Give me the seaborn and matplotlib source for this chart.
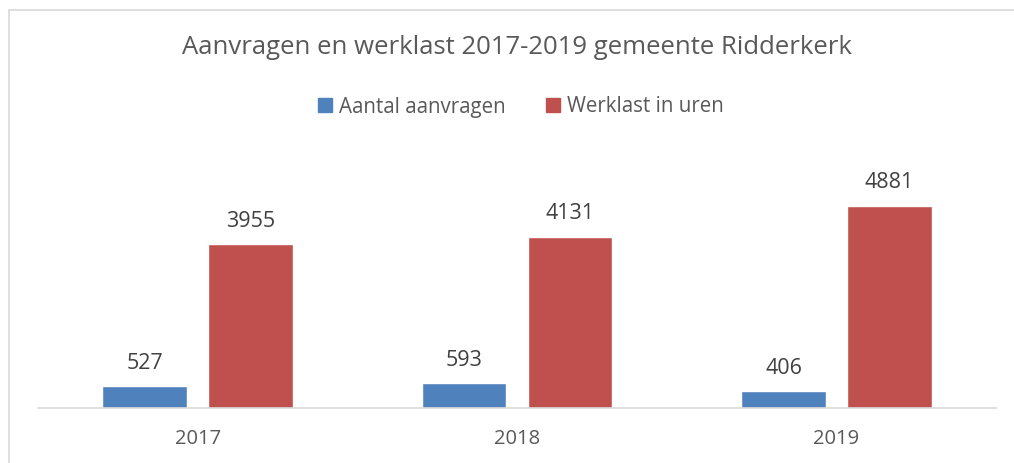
import matplotlib
matplotlib.use("Agg")
import matplotlib.pyplot as plt
import seaborn as sns
import pandas as pd
from matplotlib.patches import Rectangle

years = ["2017", "2018", "2019"]
aanvragen = [527, 593, 406]
werklast = [3955, 4131, 4881]
series_names = ["Aantal aanvragen", "Werklast in uren"]
colors = ["#4F81BD", "#C0504D"]

df = pd.DataFrame({
    "Jaar": years * 2,
    "Waarde": aanvragen + werklast,
    "Serie": [series_names[0]] * 3 + [series_names[1]] * 3,
})

sns.set_theme(style="white")
plt.rcParams["font.family"] = ["Open Sans", "DejaVu Sans"]

W, H = 1014, 463
fig = plt.figure(figsize=(W / 100, H / 100), dpi=100)
ax = fig.add_axes([38 / W, (H - 408) / H, (996 - 38) / W, (408 - 118) / H])

sns.barplot(data=df, x="Jaar", y="Waarde", hue="Serie", palette=colors,
            width=0.6625, gap=0.2, ax=ax, saturation=1, legend=False)

ax.set_ylim(0, 7000)
ax.set_xlim(-0.5, 2.5)
ax.set_xlabel("")
ax.set_ylabel("")
ax.set_yticks([])
for s in ["top", "right", "left"]:
    ax.spines[s].set_visible(False)
ax.spines["bottom"].set_color("#d9d9d9")
ax.spines["bottom"].set_linewidth(1.2)
ax.tick_params(axis="x", length=0, pad=15, labelsize=14.5, labelcolor="#595959")

for cont in ax.containers:
    ax.bar_label(cont, padding=9, fontsize=15.5, color="#404040")

fig.text(517 / W, 1 - 47 / H, "Aanvragen en werklast 2017-2019 gemeente Ridderkerk",
         ha="center", va="center", fontsize=18.5, color="#595959")

# legend
handles = [Rectangle((0, 0), 1, 1, color=c) for c in colors]
fig.legend(handles, series_names, loc="center", bbox_to_anchor=(521 / W, 1 - 107 / H),
           ncol=2, frameon=False, fontsize=14.8, labelcolor="#595959",
           handlelength=0.65, handleheight=0.65, handletextpad=0.35, columnspacing=2.0)

# outer border
fig.patches.append(Rectangle((9 / W, -0.1), 1.2, 1 - 10 / H + 0.1,
                             transform=fig.transFigure, fill=False,
                             edgecolor="#d9d9d9", linewidth=1.2))

fig.savefig("out.png", dpi=100)
